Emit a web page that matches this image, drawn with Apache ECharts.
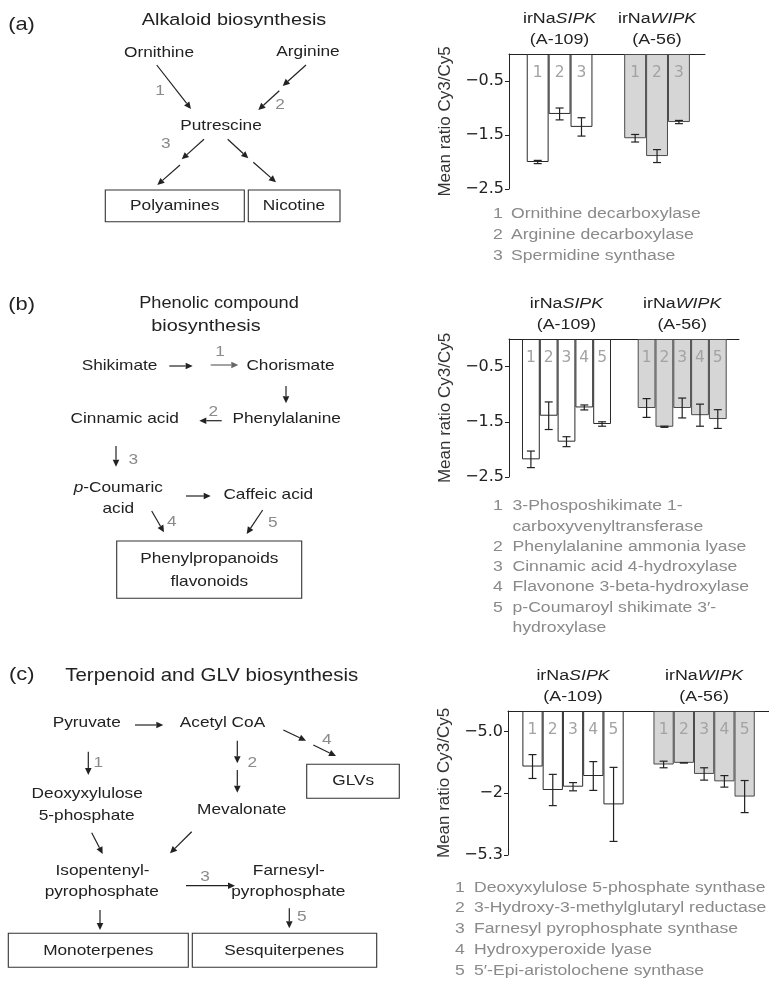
<!DOCTYPE html>
<html>
<head>
<meta charset="utf-8">
<script src="https://cdn.jsdelivr.net/npm/echarts@6/dist/echarts.min.js"></script>
<style>
  html, body { margin: 0; padding: 0; background: #fff; }
  #chart { width: 769px; height: 981px; }
</style>
</head>
<body>
<div id="chart"></div>
<script>
// ---- Data: mean Cy3/Cy5 ratios (irNaSIPK A-109 vs irNaWIPK A-56) ----
const lineNames = ['SIPK', 'WIPK'];
const lineCodes = ['(A-109)', '(A-56)'];

// (a) Alkaloid biosynthesis
const geneNumA = ['1', '2', '3'];
const sipkA = [-2.00, -1.11, -1.35];
const sipkErrA = [0.03, 0.11, 0.17];
const wipkA = [-1.56, -1.89, -1.26];
const wipkErrA = [0.07, 0.12, 0.03];
const enzymesA = ['Ornithine decarboxylase', 'Arginine decarboxylase', 'Spermidine synthase'];
const yTicksA = [-0.5, -1.5, -2.5];
const yTickTextA = ['\u22120.5', '\u22121.5', '\u22122.5'];

// (b) Phenolic compound biosynthesis
const geneNumB = ['1', '2', '3', '4', '5'];
const sipkB = [-2.18, -1.39, -1.86, -1.24, -1.54];
const sipkErrB = [0.15, 0.25, 0.09, 0.045, 0.04];
const wipkB = [-1.25, -1.59, -1.25, -1.38, -1.45];
const wipkErrB = [0.17, 0.01, 0.18, 0.20, 0.17];
const enzymesB = ['3-Phosposhikimate 1-\ncarboxyvenyltransferase', 'Phenylalanine ammonia lyase',
  'Cinnamic acid 4-hydroxylase', 'Flavonone 3-beta-hydroxylase', 'p-Coumaroyl shikimate 3\u2032-\nhydroxylase'];
const yTicksB = [-0.5, -1.5, -2.5];
const yTickTextB = ['\u22120.5', '\u22121.5', '\u22122.5'];

// (c) Terpenoid and GLV biosynthesis
const geneNumC = ['1', '2', '3', '4', '5'];
const sipkC = [-1.35, -1.92, -1.84, -1.58, -2.27];
const sipkErrC = [0.29, 0.38, 0.10, 0.35, 0.90];
const wipkC = [-1.30, -1.26, -1.53, -1.71, -2.08];
const wipkErrC = [0.08, 0, 0.15, 0.14, 0.39];
const enzymesC = ['Deoxyxylulose 5-phosphate synthase', '3-Hydroxy-3-methylglutaryl reductase',
  'Farnesyl pyrophosphate synthase', 'Hydroxyperoxide lyase', '5\u2032-Epi-aristolochene synthase'];
const yTicksC = [-0.5, -2, -3.5];
const yTickTextC = ['\u22125.0', '\u22122', '\u22125.3'];

// ---- Layout of the three bar panels (pixels) ----
const panels = [
  { nums: geneNumA, s: sipkA, se: sipkErrA, w: wipkA, we: wipkErrA, enz: enzymesA, ticks: yTicksA, tickText: yTickTextA, yMin: -2.5,
    box: { left: 509, top: 54, width: 196, height: 135 }, unit: 21.9, pad: 0.81, gap: 1.45,
    legTop: 213.3, legStep: 21.4, numX: 493, textX: 511 },
  { nums: geneNumB, s: sipkB, se: sipkErrB, w: wipkB, we: wipkErrB, enz: enzymesB, ticks: yTicksB, tickText: yTickTextB, yMin: -2.5,
    box: { left: 509, top: 339, width: 230, height: 138 }, unit: 17.8, pad: 0.73, gap: 1.5,
    legTop: 506, legStep: 20.3, numX: 493, textX: 512.5 },
  { nums: geneNumC, s: sipkC, se: sipkErrC, w: wipkC, we: wipkErrC, enz: enzymesC, ticks: yTicksC, tickText: yTickTextC, yMin: -3.5,
    box: { left: 508, top: 711, width: 261, height: 144 }, unit: 20.26, pad: 0.71, gap: 1.47,
    legTop: 887.3, legStep: 20.9, numX: 455, textX: 474 }
];

const SX = 1.15;            // horizontal text stretch
const FONT = 'Liberation Sans';
const INK = '#222';
const GREY_TXT = '#8a8a8a';

function txt(x, y, s, o) {
  return {
    type: 'text', x: x, y: y, scaleX: SX, z: 20,
    style: Object.assign({ text: s, x: 0, y: 0, align: 'center', verticalAlign: 'middle',
      fontFamily: FONT, fontSize: 15, fill: INK }, o || {})
  };
}
function arrow(x1, y1, x2, y2, color) {
  color = color || INK;
  const a = Math.atan2(y2 - y1, x2 - x1), L = 7, W = 3.3;
  const bx = x2 - L * Math.cos(a), by = y2 - L * Math.sin(a);
  const px = -Math.sin(a) * W, py = Math.cos(a) * W;
  return [
    { type: 'line', z: 20, shape: { x1: x1, y1: y1, x2: bx, y2: by }, style: { stroke: color, lineWidth: 1.2 } },
    { type: 'polygon', z: 20, shape: { points: [[x2, y2], [bx + px, by + py], [bx - px, by - py]] }, style: { fill: color } }
  ];
}
function box(x1, y1, x2, y2) {
  return { type: 'rect', z: 20, shape: { x: x1, y: y1, width: x2 - x1, height: y2 - y1 },
    style: { fill: 'none', stroke: '#333', lineWidth: 1.1 } };
}
function num(x, y, s) { return txt(x, y, s, { fill: '#8a8a8a', fontSize: 15 }); }

const grids = [], xAxes = [], yAxes = [], series = [], graphics = [];

panels.forEach(function (p, i) {
  const n = p.nums.length;
  const xMin = -(p.pad + 0.5);
  const xMax = xMin + p.box.width / p.unit;
  const starts = [0, n + p.gap];

  grids.push({ left: p.box.left, top: p.box.top, width: p.box.width, height: p.box.height });
  xAxes.push({
    gridIndex: i, type: 'value', min: xMin, max: xMax, position: 'top',
    axisLine: { show: true, onZero: false, lineStyle: { color: INK, width: 1 } },
    axisTick: { show: false }, axisLabel: { show: false }, splitLine: { show: false }
  });
  yAxes.push({
    gridIndex: i, type: 'value', min: p.yMin, max: 0, position: 'left',
    splitLine: { show: false },
    axisLine: { show: true, onZero: false, lineStyle: { color: INK, width: 1 } },
    axisTick: { show: true, customValues: p.ticks, length: 4, lineStyle: { color: INK } },
    axisLabel: {
      customValues: p.ticks, margin: 5, color: INK, fontFamily: 'DejaVu Sans', fontSize: 16,
      formatter: function (v) {
        const k = p.ticks.findIndex(function (t) { return Math.abs(t - v) < 1e-6; });
        return k >= 0 ? p.tickText[k] : '';
      }
    },
    name: 'Mean ratio Cy3/Cy5', nameLocation: 'middle', nameRotate: 90, nameGap: 55,
    nameTextStyle: { fontFamily: FONT, fontSize: 17, color: '#333' }
  });

  const barData = [], errData = [];
  [[p.s, p.se], [p.w, p.we]].forEach(function (grp, g) {
    grp[0].forEach(function (v, k) {
      const x = starts[g] + k;
      barData.push({
        value: [x, v], gene: p.nums[k],
        itemStyle: g === 0 ? { color: '#ffffff', borderColor: '#2a2a2a' } : { color: '#d6d6d6', borderColor: '#4a4a4a' }
      });
      errData.push([x, v, grp[1][k]]);
    });
  });

  series.push({
    type: 'bar', xAxisIndex: i, yAxisIndex: i, barWidth: p.unit, data: barData,
    itemStyle: { borderWidth: 1 },
    label: {
      show: true, position: 'insideTop', distance: 11, color: '#a3a3a3',
      fontFamily: 'DejaVu Sans', fontSize: 15.5,
      formatter: function (prm) { return prm.data.gene; }
    },
    silent: true, animation: false
  });
  series.push({
    type: 'custom', xAxisIndex: i, yAxisIndex: i, data: errData, z: 5, clip: false,
    encode: { x: 0, y: 1 }, animation: false, silent: true,
    renderItem: function (params, api) {
      const x = api.value(0), v = api.value(1), e = api.value(2);
      const t = api.coord([x, v + e]), b = api.coord([x, v - e]);
      const c = 4, st = { stroke: INK, lineWidth: 1.2 };
      return { type: 'group', children: [
        { type: 'line', shape: { x1: t[0], y1: t[1], x2: b[0], y2: b[1] }, style: st },
        { type: 'line', shape: { x1: t[0] - c, y1: t[1], x2: t[0] + c, y2: t[1] }, style: st },
        { type: 'line', shape: { x1: b[0] - c, y1: b[1], x2: b[0] + c, y2: b[1] }, style: st }
      ] };
    }
  });

  // group headers over the bars
  lineNames.forEach(function (nm, g) {
    const cx = p.box.left + (p.pad + starts[g] + n / 2) * p.unit;
    graphics.push(txt(cx, p.box.top - 35, '{a|irNa}{b|' + nm + '}', {
      fontSize: 15.5,
      rich: { a: { fontFamily: FONT, fontSize: 15.5, fill: INK }, b: { fontFamily: FONT, fontSize: 15.5, fontStyle: 'italic', fill: INK } }
    }));
    graphics.push(txt(cx, p.box.top - 14.5, lineCodes[g], { fontSize: 15.5 }));
  });

  // enzyme key
  let row = 0;
  p.enz.forEach(function (e, k) {
    e.split('\n').forEach(function (part, j) {
      const y = p.legTop + row * p.legStep;
      if (j === 0) graphics.push(txt(p.numX, y, p.nums[k], { align: 'left', fill: GREY_TXT, fontSize: 15.3 }));
      graphics.push(txt(p.textX, y, part, { align: 'left', fill: GREY_TXT, fontSize: 15.3 }));
      row++;
    });
  });
});

// ---- Pathway diagrams ----
const diag = [];
function add(el) { if (Array.isArray(el)) el.forEach(function (d) { diag.push(d); }); else diag.push(el); }

// (a) Alkaloid biosynthesis
add(txt(21.5, 25, '(a)', { fontSize: 19 }));
add(txt(234, 20, 'Alkaloid biosynthesis', { fontSize: 17.3 }));
add(txt(159, 53, 'Ornithine'));
add(txt(308, 52, 'Arginine'));
add(arrow(156.7, 65, 191, 109));
add(num(160, 90.7, '1'));
add(arrow(306, 65, 282.7, 86));
add(arrow(279.3, 90.7, 258.3, 110));
add(num(280, 105, '2'));
add(txt(221, 126, 'Putrescine'));
add(num(165.7, 144, '3'));
add(arrow(204, 139.3, 181.7, 159.3));
add(arrow(180, 165, 157.3, 185));
add(arrow(227.7, 139.3, 248.3, 158.3));
add(arrow(253.3, 162.3, 276, 182.3));
add(box(105.3, 190, 244.3, 221.7));
add(txt(174.7, 205.7, 'Polyamines'));
add(box(248.3, 190, 340, 221.7));
add(txt(294, 205.5, 'Nicotine'));

// (b) Phenolic compound biosynthesis
add(txt(21.7, 305, '(b)', { fontSize: 19 }));
add(txt(219, 303.3, 'Phenolic compound', { fontSize: 15.8 }));
add(txt(206, 326, 'biosynthesis', { fontSize: 17.3 }));
add(txt(119.5, 366, 'Shikimate'));
add(arrow(169.3, 366, 192.7, 366));
add(arrow(210.7, 365, 238.3, 365, '#666'));
add(num(220, 351.7, '1'));
add(txt(290.5, 366, 'Chorismate'));
add(arrow(286, 386, 286, 403.3));
add(txt(124.7, 419.3, 'Cinnamic acid'));
add(txt(286.7, 419.3, 'Phenylalanine'));
add(arrow(221.7, 420.7, 199.3, 420.7));
add(num(213.3, 411.7, '2'));
add(arrow(116, 446, 116, 466.7));
add(num(133.3, 460, '3'));
add(txt(118.3, 488.3, '{i|p}{r|-Coumaric}', {
  rich: { i: { fontFamily: FONT, fontSize: 15, fontStyle: 'italic', fill: INK }, r: { fontFamily: FONT, fontSize: 15, fill: INK } }
}));
add(txt(118.3, 509.3, 'acid'));
add(arrow(186, 496, 210.7, 496));
add(txt(268.3, 495, 'Caffeic acid'));
add(arrow(151.7, 511, 164, 532.3));
add(num(171.7, 521.7, '4'));
add(arrow(262.7, 510, 246.7, 534));
add(num(272.7, 522.7, '5'));
add(box(116.7, 541, 301.7, 598.3));
add(txt(209.3, 559.3, 'Phenylpropanoids'));
add(txt(209.3, 581.7, 'flavonoids'));

// (c) Terpenoid and GLV biosynthesis
add(txt(21.7, 675, '(c)', { fontSize: 19 }));
add(txt(211.7, 676, 'Terpenoid and GLV biosynthesis', { fontSize: 17.8 }));
add(txt(86.7, 722.7, 'Pyruvate'));
add(arrow(135, 725, 163.3, 725));
add(txt(222.5, 722.7, 'Acetyl CoA'));
add(arrow(283.3, 730, 306, 740.7));
add(arrow(313.3, 745, 336, 756));
add(num(326.7, 740, '4'));
add(box(306.7, 764.3, 399.3, 798.3));
add(txt(353.3, 781, 'GLVs'));
add(arrow(88.3, 751.7, 88.3, 775));
add(num(98.3, 762.7, '1'));
add(arrow(237.3, 740.7, 237.3, 763.3));
add(arrow(237.3, 770, 237.3, 792.7));
add(num(252.3, 762.7, '2'));
add(txt(87.2, 794.3, 'Deoxyxylulose'));
add(txt(86.7, 815.7, '5-phosphate'));
add(txt(241.7, 810, 'Mevalonate'));
add(arrow(91.7, 832.7, 102.7, 854));
add(arrow(191.7, 831.7, 170, 853.3));
add(txt(102.5, 870.7, 'Isopentenyl-'));
add(txt(101.7, 891.7, 'pyrophosphate'));
add(arrow(186, 885.7, 235, 885.7));
add(num(205, 876.7, '3'));
add(txt(288.8, 870.7, 'Farnesyl-'));
add(txt(288.3, 891.7, 'pyrophosphate'));
add(arrow(100, 910, 100, 930));
add(arrow(289.3, 908.3, 289.3, 928.3));
add(num(301.7, 916.7, '5'));
add(box(8.3, 933.3, 188.3, 967.3));
add(txt(98.3, 950.7, 'Monoterpenes'));
add(box(192.3, 933.3, 376.7, 967.3));
add(txt(284.3, 950.7, 'Sesquiterpenes'));

const chart = echarts.init(document.getElementById('chart'), null, { renderer: 'canvas' });
chart.setOption({
  backgroundColor: '#ffffff',
  animation: false,
  grid: grids,
  xAxis: xAxes,
  yAxis: yAxes,
  series: series,
  graphic: { elements: graphics.concat(diag) }
});
</script>
</body>
</html>
